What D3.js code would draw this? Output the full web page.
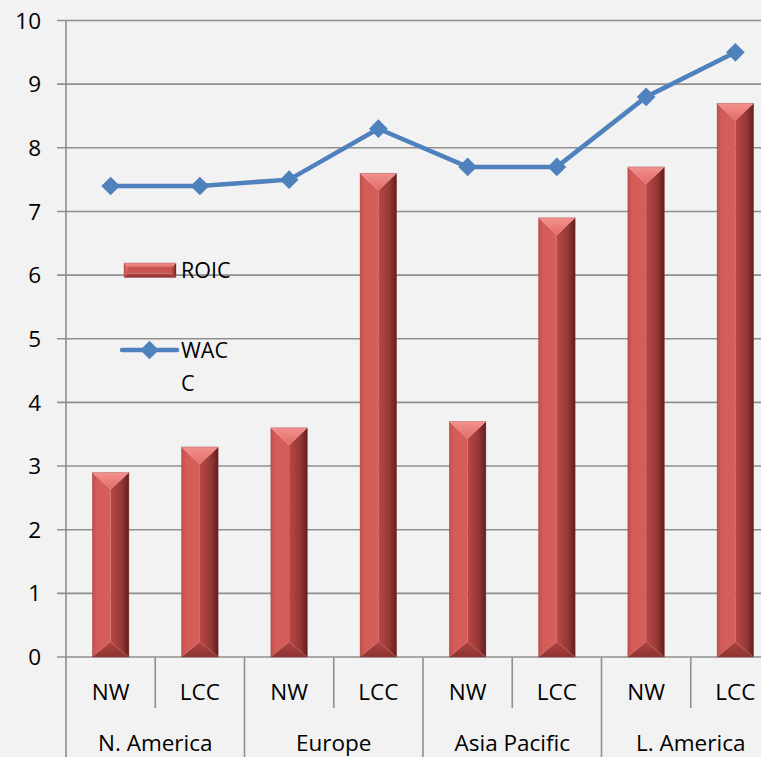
<!DOCTYPE html>
<html><head><meta charset="utf-8">
<script src="https://cdn.jsdelivr.net/npm/d3@7"></script>
<style>html,body{margin:0;padding:0;background:#f2f2f2;} svg{display:block;}</style>
</head><body>
<svg id="c" width="761" height="757"></svg>
<script>
const categories = ["NW","LCC","NW","LCC","NW","LCC","NW","LCC"];
const groups = ["N. America","Europe","Asia Pacific","L. America"];
const roic = [2.9, 3.3, 3.6, 7.6, 3.7, 6.9, 7.7, 8.7];
const wacc = [7.4, 7.4, 7.5, 8.3, 7.7, 7.7, 8.8, 9.5];
const yTicks = [0,1,2,3,4,5,6,7,8,9,10];
const legendLabels = ["ROIC", ["WAC","C"]];

const W = 761, H = 757;
const svg = d3.select("#c");
svg.append("rect").attr("width",W).attr("height",H).attr("fill","#f2f2f2");
const font = "'Open Sans', Lato, sans-serif";
const fs = 22.5;
const gridColor = "#8f8f8f";

const x0 = 66, x1 = 780;
const x = d3.scaleBand().domain(d3.range(categories.length)).range([x0,x1]).paddingInner(0.59).paddingOuter(0.295);
const step = x.step();
const y = d3.scaleLinear().domain([0,10]).range([657,20.5]);

// defs
const defs = svg.append("defs");
function grad(id, stops, x2, y2){
  const g = defs.append("linearGradient").attr("id",id).attr("x1",0).attr("y1",0).attr("x2",x2).attr("y2",y2);
  stops.forEach(s=>g.append("stop").attr("offset",s[0]).attr("stop-color",s[1]));
}
grad("gL", [[0,"#c24e4a"],[0.25,"#d45c58"],[1,"#d65f5b"]],1,0);
grad("gR", [[0,"#b94845"],[0.6,"#963836"],[1,"#5f1f1e"]],1,0);
grad("gT", [[0,"#f3928e"],[1,"#e26b67"]],0,1);
grad("gB", [[0,"#b34442"],[1,"#8c3331"]],0,1);

// gridlines
const gy = svg.append("g");
gy.selectAll("line").data(yTicks).join("line")
  .attr("x1",57).attr("x2",W).attr("y1",d=>y(d)).attr("y2",d=>y(d))
  .attr("stroke",gridColor).attr("stroke-width",1.6);
gy.selectAll("text").data(yTicks).join("text")
  .attr("x",41).attr("y",d=>y(d)).attr("dy","0.36em").attr("text-anchor","end")
  .attr("font-family",font).attr("font-size",fs).attr("fill","#000").text(d=>d);

// y axis line
svg.append("line").attr("x1",x0).attr("x2",x0).attr("y1",y(10)).attr("y2",H)
  .attr("stroke",gridColor).attr("stroke-width",1.6);

// category axis separators
const bounds = d3.range(1, categories.length+1);
svg.append("g").selectAll("line").data(bounds).join("line")
  .attr("x1",i=>x0+i*step).attr("x2",i=>x0+i*step)
  .attr("y1",y(0)).attr("y2",i=>i%2===0?H:708)
  .attr("stroke",gridColor).attr("stroke-width",1.6);

svg.append("g").selectAll("text").data(categories).join("text")
  .attr("x",(d,i)=>x(i)+x.bandwidth()/2).attr("y",692).attr("dy","0.36em")
  .attr("text-anchor","middle").attr("font-family",font).attr("font-size",fs).text(d=>d);
svg.append("g").selectAll("text").data(groups).join("text")
  .attr("x",(d,i)=>x0+(2*i+1)*step).attr("y",743).attr("dy","0.36em")
  .attr("text-anchor","middle").attr("font-family",font).attr("font-size",fs).text(d=>d);

// bevelled bar
function bevelBar(g, bx0, bx1, top, bot, b, dTop, dBot){
  const P = pts=>"M"+pts.map(p=>p.join(",")).join("L")+"Z";
  const ix0 = bx0+b, ix1 = bx1-b, it = top+dTop, ib = bot-dBot;
  if (ix1 > ix0) g.append("rect").attr("x",ix0).attr("y",it).attr("width",ix1-ix0).attr("height",Math.max(0,ib-it)).attr("fill","#c9534f");
  g.append("path").attr("d",P([[bx0,top],[ix0,it],[ix0,ib],[bx0,bot]])).attr("fill","url(#gL)");
  g.append("path").attr("d",P([[bx1,top],[ix1,it],[ix1,ib],[bx1,bot]])).attr("fill","url(#gR)");
  g.append("path").attr("d",P([[bx0,top],[bx1,top],[ix1,it],[ix0,it]])).attr("fill","url(#gT)");
  g.append("path").attr("d",P([[bx0,bot],[bx1,bot],[ix1,ib],[ix0,ib]])).attr("fill","url(#gB)");
  g.append("rect").attr("x",bx0).attr("y",top).attr("width",bx1-bx0).attr("height",bot-top)
    .attr("fill","none").attr("stroke","#9a3a37").attr("stroke-width",0.6).attr("stroke-opacity",0.6);
}
const bw = x.bandwidth();
const barsG = svg.append("g");
roic.forEach((v,i)=>{
  bevelBar(barsG.append("g"), x(i), x(i)+bw, y(v), y(0), bw/2, bw*0.47, bw*0.42);
});

// line
const line = d3.line().x((d,i)=>x(i)+bw/2).y(d=>y(d));
svg.append("path").datum(wacc).attr("d",line).attr("fill","none")
  .attr("stroke","#4f81bd").attr("stroke-width",4.5).attr("stroke-linejoin","round");
const diamond = d3.symbol().type(d3.symbolSquare).size(175);
svg.append("g").selectAll("path").data(wacc).join("path")
  .attr("d",diamond)
  .attr("transform",(d,i)=>`translate(${x(i)+bw/2},${y(d)}) rotate(45)`)
  .attr("fill","#4f81bd");

// legend
const lg = svg.append("g");
bevelBar(lg.append("g"), 124, 176, 263, 277.5, 4, 4, 4);
lg.append("text").attr("x",181).attr("y",270).attr("dy","0.36em")
  .attr("font-family",font).attr("font-size",21.5).text(legendLabels[0]);
lg.append("line").attr("x1",122).attr("x2",177).attr("y1",350).attr("y2",350)
  .attr("stroke","#4f81bd").attr("stroke-width",4.5).attr("stroke-linecap","round");
lg.append("path").attr("d",diamond).attr("transform","translate(149.5,350) rotate(45)").attr("fill","#4f81bd");
const t2 = lg.append("text").attr("font-family",font).attr("font-size",21.5);
legendLabels[1].forEach((s,k)=>t2.append("tspan").attr("x",181).attr("y",350+k*33).attr("dy","0.36em").text(s));
</script>
</body></html>
